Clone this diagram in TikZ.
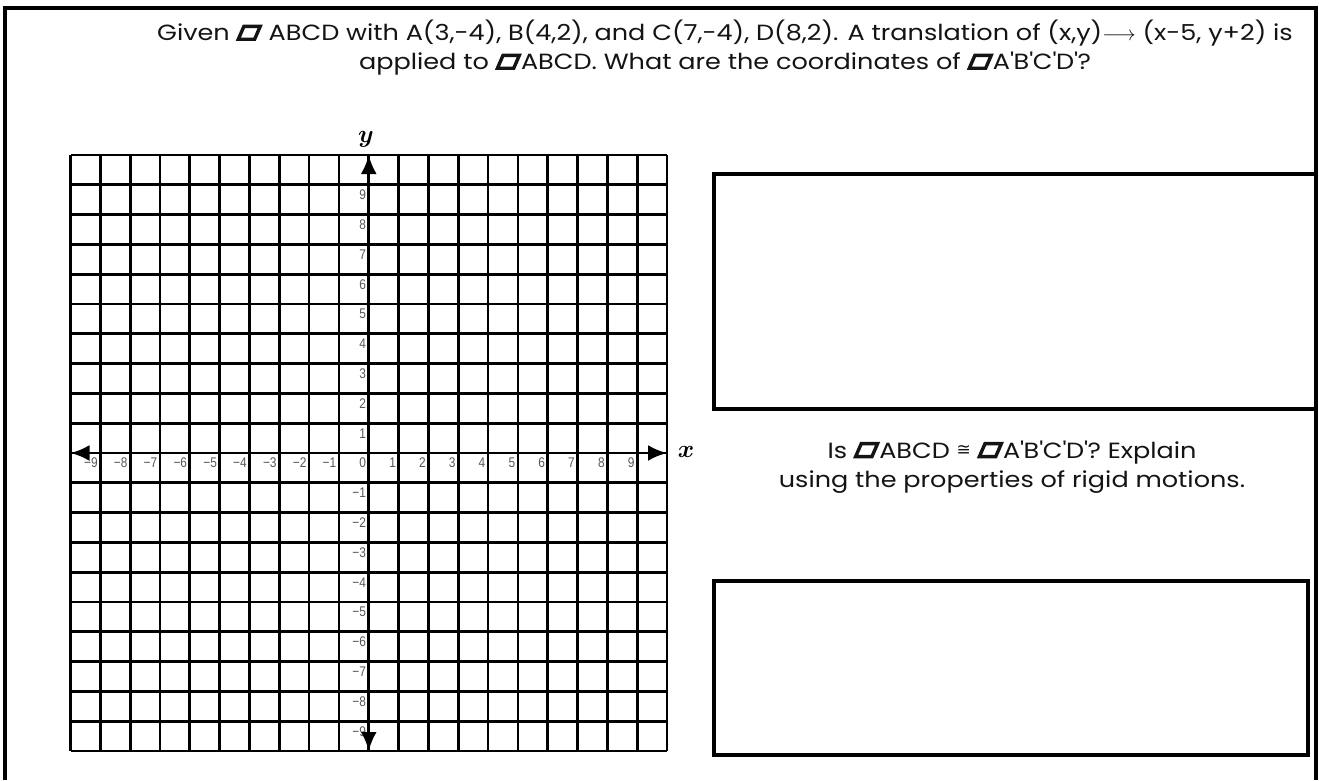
\documentclass[tikz,border=0pt]{standalone}
\usepackage{fontspec}
\usepackage{bm}
\setmainfont[FakeStretch=1.16]{Poppins}
\newfontfamily\dejavu{DejaVu Sans}
\newfontfamily\tickfont[FakeStretch=0.85]{Liberation Sans}
\usetikzlibrary{arrows.meta}
\newcommand{\pgm}{\tikz[baseline=0pt,x=1pt,y=1pt]{\draw[line width=3.4pt,line join=miter,fill=white] (1.7,1.7) -- (18,1.7) -- (23.6,14.6) -- (7.3,14.6) -- cycle;}}
\newcommand{\qq}{\textquotesingle}
\newcommand{\congsym}{{\dejavu\raisebox{3pt}{\fontsize{17}{17}\selectfont ≅}}}
\tikzset{
  frameline/.style={line width=4.5pt},
  boxline/.style={line width=4pt},
  gridline/.style={line width=2.7pt},
  axisline/.style={line width=2.9pt,-{Latex[length=19pt,width=16pt]}},
  ticklab/.style={font=\tickfont\fontsize{14}{14}\selectfont, text=black!65, inner sep=0pt, anchor=east},
  txt/.style={align=center, font=\fontsize{22}{29}\selectfont, text=black!92, inner sep=0pt},
  axlab/.style={font=\fontsize{26}{26}\selectfont, inner sep=0pt}
}
\begin{document}
\begin{tikzpicture}[x=1pt,y=-1pt]
\useasboundingbox (0,0) rectangle (1319,780);
\fill[white] (0,0) rectangle (1319,780);
% outer frame
\draw[frameline] (5,780) -- (5,8) -- (1316,8) -- (1316,780);
% top right answer box
\draw[boxline] (1316,174) -- (714,174) -- (714,409) -- (1316,409);
% bottom right answer box
\draw[boxline] (714,581) rectangle (1308,755);
% title
\node[txt] (title) at (725,48) {Given \pgm{} ABCD with A(3,-4), B(4,2), and C(7,-4), D(8,2). A translation of (x,y)$\longrightarrow$ (x-5, y+2) is\\ applied to \pgm ABCD. What are the coordinates of \pgm A\qq B\qq C\qq D\qq ?};
% question 2
\node[txt] (q2) at (1012,467) {Is \pgm ABCD \congsym{} \pgm A\qq B\qq C\qq D\qq ? Explain\\ using the properties of rigid motions.};
% grid
\begin{scope}[shift={(368.75,453)}, x=29.825pt, y=29.8pt]
  \draw[gridline] (-10,-10) grid[step=1] (10,10);
  \foreach \k in {1,...,9} {
    \node[ticklab] (xp\k) at ([xshift=-2.5pt,yshift=-10pt]\k,0) {\k};
    \node[ticklab] (xn\k) at ([xshift=-2.5pt,yshift=-10pt]-\k,0) {−\k};
    \node[ticklab] (yp\k) at ([xshift=-2.5pt,yshift=-10pt]0,\k) {\k};
    \node[ticklab] (yn\k) at ([xshift=-2.5pt,yshift=-10pt]0,-\k) {−\k};
  }
  \node[ticklab] (zero) at ([xshift=-2.5pt,yshift=-10pt]0,0) {0};
  \coordinate (O) at (0,0);
  \coordinate (xR) at (10,0);
  \coordinate (xL) at (-10,0);
  \coordinate (yT) at (0,10);
  \coordinate (yB) at (0,-10);
  \draw[axisline] (O) -- (xR);
  \draw[axisline] (O) -- (xL);
  \draw[axisline] (O) -- (yT);
  \draw[axisline] (O) -- (yB);
\end{scope}
\node[axlab] (ylab) at (366,139) {$\bm{y}$};
\node[axlab] (xlab) at (686,452) {$\bm{x}$};
\end{tikzpicture}
\end{document}
